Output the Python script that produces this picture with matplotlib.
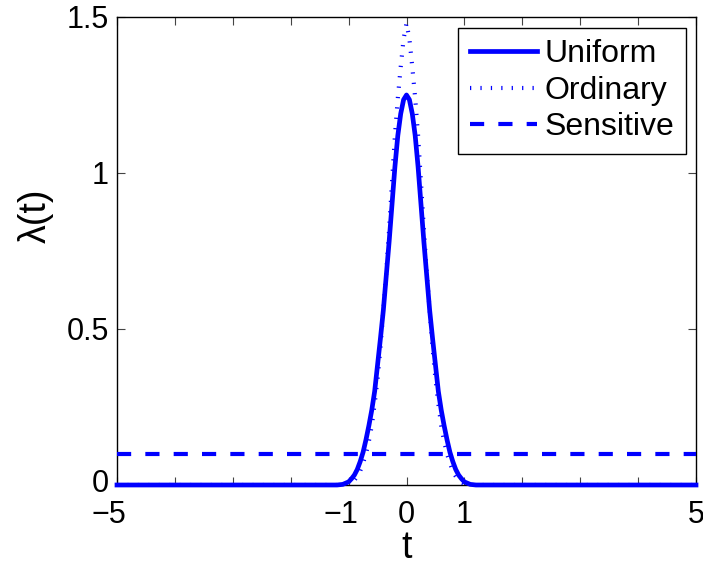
import matplotlib
matplotlib.use("Agg")
import matplotlib.pyplot as plt
from matplotlib.transforms import ScaledTranslation

plt.rcParams['font.family'] = ['Liberation Sans', 'DejaVu Sans']

# Data
t_vals = [-5.0, -1.2, -1.1, -1.0, -0.95, -0.9, -0.85, -0.8, -0.75, -0.7, -0.65, -0.6,
          -0.55, -0.5, -0.45, -0.4, -0.35, -0.3, -0.25, -0.2, -0.15, -0.1, -0.05, 0.0,
          0.05, 0.1, 0.15, 0.2, 0.25, 0.3, 0.35, 0.4, 0.45, 0.5, 0.55, 0.6,
          0.65, 0.7, 0.75, 0.8, 0.85, 0.9, 0.95, 1.0, 1.1, 1.2, 5.0]
uniform = [0.0, 0.0, 0.002, 0.01, 0.02, 0.032, 0.05, 0.075, 0.105, 0.145, 0.19, 0.24,
           0.30, 0.385, 0.47, 0.56, 0.67, 0.78, 0.90, 1.02, 1.12, 1.19, 1.235, 1.25,
           1.235, 1.19, 1.12, 1.02, 0.90, 0.78, 0.67, 0.56, 0.47, 0.385, 0.30, 0.24,
           0.19, 0.145, 0.105, 0.075, 0.05, 0.032, 0.02, 0.01, 0.002, 0.0, 0.0]
ordinary = [0.0, 0.0, 0.0, 0.004, 0.008, 0.015, 0.028, 0.045, 0.07, 0.10, 0.14, 0.19,
            0.26, 0.34, 0.44, 0.56, 0.68, 0.82, 0.97, 1.12, 1.24, 1.34, 1.43, 1.48,
            1.43, 1.34, 1.24, 1.12, 0.97, 0.82, 0.68, 0.56, 0.44, 0.34, 0.26, 0.19,
            0.14, 0.10, 0.07, 0.045, 0.028, 0.015, 0.008, 0.004, 0.0, 0.0, 0.0]
sens_t = [-5.0, 5.0]
sensitive = [0.1, 0.1]

xticks = [-5, -4, -3, -2, -1, 0, 1, 2, 3, 4, 5]
xticklabels = ['\u22125', '', '', '', '\u22121', '0', '1', '', '', '', '5']
yticks = [0, 0.5, 1, 1.5]
yticklabels = ['0', '0.5', '1', '1.5']

W, H = 703, 565
fig = plt.figure(figsize=(W / 100, H / 100), dpi=100)
ax = fig.add_axes([117 / W, (H - 485) / H, 579 / W, 468 / H])

blue = '#0000ff'
ax.plot(t_vals, uniform, color=blue, lw=3.4, label='Uniform', zorder=4,
        solid_joinstyle='round', clip_on=False)
ax.plot(t_vals, ordinary, color=blue, lw=3.0, linestyle=(0, (0.3, 2.2)),
        dash_capstyle='butt', label='Ordinary', zorder=3)
ax.plot(sens_t, sensitive, color=blue, lw=3.0, linestyle=(0, (3.4, 3.4)),
        label='Sensitive', zorder=3)

ax.set_xlim(-5, 5)
ax.set_ylim(0, 1.5)
ax.set_xticks(xticks)
ax.set_xticklabels(xticklabels)
ax.set_yticks(yticks)
ax.set_yticklabels(yticklabels)
ax.tick_params(direction='in', top=True, right=True, length=6, width=0.8,
               labelsize=22, color='#444444')
ax.tick_params(axis='x', pad=11)
ax.tick_params(axis='y', pad=6)
for s in ax.spines.values():
    s.set_linewidth(1.0)
    s.set_zorder(2)

# MATLAB-style: digit centred on the tick, minus sign sticking out to the left
for lab in ax.get_xticklabels():
    if lab.get_text().startswith('\u2212'):
        lab.set_transform(lab.get_transform() +
                          ScaledTranslation(-8 / 100, 0, fig.dpi_scale_trans))
# keep the "0" of the y axis clear of the "-5" below it
ylabs = ax.get_yticklabels()
ylabs[0].set_transform(ylabs[0].get_transform() +
                       ScaledTranslation(0, 4 / 100, fig.dpi_scale_trans))

ax.set_xlabel('t', fontsize=27, labelpad=0)
ax.set_ylabel('\u03bb(t)', fontsize=27)
ax.yaxis.set_label_coords(-0.11, 0.575)

leg = ax.legend(loc='upper right', bbox_to_anchor=(686 / W, 1 - 28 / H),
                bbox_transform=fig.transFigure, borderaxespad=0, fontsize=23,
                handlelength=2.1, handletextpad=0.25, labelspacing=0.2,
                borderpad=0.36, fancybox=False, framealpha=1, edgecolor='black')
leg.get_frame().set_linewidth(1.0)

fig.savefig('out.png', dpi=100)
